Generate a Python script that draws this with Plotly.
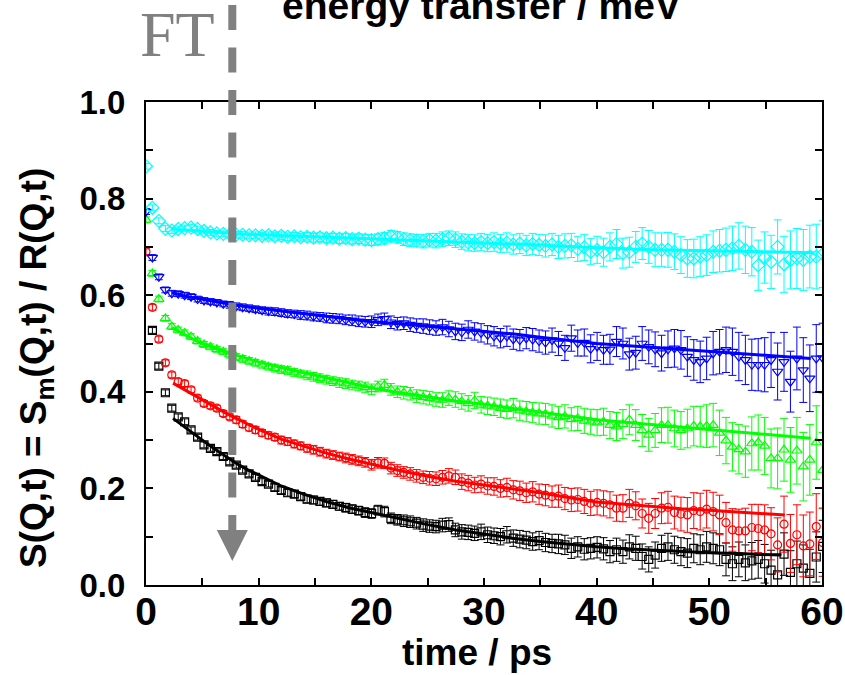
import plotly.graph_objects as go

# ---------------- data ----------------
time_ps = [0.0, 0.57, 1.14, 1.72, 2.29, 2.86, 3.43, 4.00, 4.58, 5.15,
           5.72, 6.29, 6.86, 7.44, 8.01, 8.58, 9.15, 9.72, 10.30, 10.87,
           11.44, 12.01, 12.58, 13.16, 13.73, 14.30, 14.87, 15.44, 16.02, 16.59,
           17.16, 17.73, 18.30, 18.88, 19.45, 20.02, 20.59, 21.16, 21.74, 22.31,
           22.88, 23.45, 24.02, 24.60, 25.17, 25.74, 26.31, 26.88, 27.46, 28.03,
           28.60, 29.17, 29.74, 30.32, 30.89, 31.46, 32.03, 32.60, 33.18, 33.75,
           34.32, 34.89, 35.46, 36.04, 36.61, 37.18, 37.75, 38.32, 38.90, 39.47,
           40.04, 40.61, 41.18, 41.76, 42.33, 42.90, 43.47, 44.04, 44.62, 45.19,
           45.76, 46.33, 46.90, 47.48, 48.05, 48.62, 49.19, 49.76, 50.34, 50.91,
           51.48, 52.05, 52.62, 53.20, 53.77, 54.34, 54.91, 55.48, 56.06, 56.63,
           57.20, 57.77, 58.34, 58.92, 59.49, 60.06]

cyan_S = [0.867, 0.781, 0.754, 0.738, 0.734, 0.737, 0.739, 0.740, 0.737, 0.733,
          0.730, 0.728, 0.727, 0.726, 0.725, 0.725, 0.724, 0.724, 0.723, 0.724,
          0.722, 0.723, 0.721, 0.722, 0.720, 0.721, 0.719, 0.720, 0.718, 0.719,
          0.717, 0.718, 0.716, 0.717, 0.715, 0.714, 0.716, 0.718, 0.722, 0.720,
          0.716, 0.714, 0.713, 0.712, 0.714, 0.713, 0.716, 0.718, 0.715, 0.711,
          0.709, 0.708, 0.710, 0.708, 0.710, 0.707, 0.709, 0.705, 0.707, 0.703,
          0.706, 0.704, 0.702, 0.705, 0.700, 0.702, 0.703, 0.696, 0.699, 0.690,
          0.694, 0.689, 0.700, 0.706, 0.687, 0.689, 0.700, 0.707, 0.700, 0.694,
          0.694, 0.694, 0.690, 0.683, 0.676, 0.676, 0.680, 0.683, 0.690, 0.692,
          0.694, 0.697, 0.702, 0.694, 0.690, 0.662, 0.678, 0.669, 0.700, 0.664,
          0.673, 0.676, 0.673, 0.680, 0.680, 0.685]

blue_S = [0.773, 0.678, 0.638, 0.611, 0.604, 0.603, 0.600, 0.597, 0.592, 0.589,
          0.587, 0.585, 0.582, 0.580, 0.577, 0.575, 0.573, 0.571, 0.569, 0.567,
          0.566, 0.564, 0.562, 0.561, 0.559, 0.558, 0.556, 0.555, 0.553, 0.552,
          0.551, 0.549, 0.548, 0.546, 0.545, 0.545, 0.549, 0.551, 0.544, 0.541,
          0.542, 0.539, 0.537, 0.536, 0.534, 0.532, 0.534, 0.530, 0.525, 0.523,
          0.529, 0.525, 0.522, 0.518, 0.515, 0.511, 0.515, 0.509, 0.507, 0.511,
          0.508, 0.505, 0.502, 0.507, 0.500, 0.491, 0.511, 0.501, 0.502, 0.489,
          0.494, 0.487, 0.488, 0.504, 0.500, 0.478, 0.481, 0.500, 0.493, 0.488,
          0.480, 0.488, 0.490, 0.487, 0.473, 0.466, 0.462, 0.469, 0.480, 0.483,
          0.487, 0.483, 0.473, 0.466, 0.456, 0.456, 0.456, 0.466, 0.442, 0.462,
          0.421, 0.469, 0.445, 0.428, 0.469, 0.470]

green_S = [0.756, 0.645, 0.592, 0.552, 0.535, 0.528, 0.522, 0.514, 0.505, 0.498,
           0.493, 0.488, 0.483, 0.477, 0.472, 0.468, 0.464, 0.460, 0.456, 0.452,
           0.449, 0.446, 0.444, 0.440, 0.437, 0.434, 0.431, 0.428, 0.425, 0.422,
           0.419, 0.417, 0.414, 0.412, 0.409, 0.405, 0.411, 0.414, 0.405, 0.400,
           0.398, 0.396, 0.391, 0.389, 0.387, 0.384, 0.383, 0.387, 0.384, 0.380,
           0.376, 0.382, 0.373, 0.371, 0.369, 0.366, 0.364, 0.366, 0.361, 0.359,
           0.357, 0.355, 0.354, 0.350, 0.347, 0.349, 0.343, 0.345, 0.340, 0.338,
           0.336, 0.338, 0.331, 0.328, 0.333, 0.342, 0.331, 0.320, 0.311, 0.320,
           0.331, 0.331, 0.324, 0.320, 0.324, 0.329, 0.328, 0.329, 0.331, 0.315,
           0.299, 0.286, 0.281, 0.276, 0.293, 0.295, 0.288, 0.262, 0.262, 0.280,
           0.259, 0.278, 0.245, 0.259, 0.295, 0.238]

red_S = [0.690, 0.575, 0.509, 0.460, 0.435, 0.421, 0.417, 0.404, 0.387, 0.376,
         0.371, 0.366, 0.355, 0.348, 0.342, 0.333, 0.326, 0.321, 0.315, 0.310,
         0.306, 0.300, 0.297, 0.292, 0.288, 0.283, 0.280, 0.276, 0.272, 0.269,
         0.266, 0.263, 0.260, 0.257, 0.254, 0.249, 0.253, 0.252, 0.242, 0.237,
         0.233, 0.230, 0.226, 0.223, 0.221, 0.220, 0.223, 0.226, 0.223, 0.214,
         0.211, 0.207, 0.209, 0.205, 0.204, 0.200, 0.202, 0.197, 0.195, 0.191,
         0.193, 0.188, 0.186, 0.183, 0.184, 0.179, 0.176, 0.177, 0.173, 0.169,
         0.171, 0.169, 0.166, 0.159, 0.159, 0.169, 0.164, 0.148, 0.138, 0.148,
         0.159, 0.161, 0.150, 0.147, 0.145, 0.154, 0.152, 0.157, 0.152, 0.145,
         0.129, 0.114, 0.112, 0.112, 0.119, 0.117, 0.114, 0.106, 0.083, 0.126,
         0.086, 0.104, 0.081, 0.085, 0.121, 0.088]

black_S = [None, 0.527, 0.453, 0.398, 0.366, 0.348, 0.338, 0.321, 0.306, 0.290,
           0.283, 0.276, 0.266, 0.255, 0.248, 0.238, 0.230, 0.223, 0.214, 0.209,
           0.202, 0.196, 0.191, 0.188, 0.183, 0.178, 0.176, 0.173, 0.170, 0.167,
           0.163, 0.160, 0.157, 0.154, 0.150, 0.148, 0.155, 0.152, 0.138, 0.135,
           0.133, 0.131, 0.128, 0.124, 0.122, 0.121, 0.124, 0.125, 0.114, 0.110,
           0.109, 0.107, 0.110, 0.104, 0.102, 0.100, 0.104, 0.097, 0.095, 0.093,
           0.090, 0.092, 0.088, 0.086, 0.085, 0.083, 0.076, 0.079, 0.074, 0.076,
           0.078, 0.075, 0.069, 0.073, 0.069, 0.079, 0.076, 0.059, 0.053, 0.062,
           0.076, 0.079, 0.073, 0.069, 0.066, 0.076, 0.073, 0.079, 0.076, 0.073,
           0.053, 0.044, 0.053, 0.046, 0.050, 0.053, 0.044, 0.031, 0.021, 0.064,
           0.026, 0.044, 0.035, 0.024, 0.058, 0.080]

err_cyan = [0.006, 0.006, 0.006, 0.006, 0.006, 0.006, 0.006, 0.006, 0.006, 0.006,
            0.006, 0.006, 0.006, 0.007, 0.007, 0.007, 0.007, 0.007, 0.007, 0.007,
            0.008, 0.008, 0.008, 0.008, 0.008, 0.009, 0.009, 0.009, 0.009, 0.009,
            0.010, 0.010, 0.010, 0.010, 0.011, 0.011, 0.011, 0.012, 0.012, 0.012,
            0.013, 0.013, 0.013, 0.014, 0.014, 0.015, 0.015, 0.015, 0.016, 0.016,
            0.017, 0.017, 0.018, 0.018, 0.019, 0.019, 0.020, 0.020, 0.021, 0.021,
            0.022, 0.022, 0.023, 0.023, 0.024, 0.025, 0.025, 0.026, 0.027, 0.027,
            0.028, 0.029, 0.029, 0.030, 0.031, 0.031, 0.032, 0.033, 0.034, 0.035,
            0.035, 0.036, 0.037, 0.038, 0.039, 0.040, 0.041, 0.042, 0.043, 0.044,
            0.045, 0.046, 0.048, 0.049, 0.050, 0.052, 0.053, 0.055, 0.056, 0.058,
            0.060, 0.062, 0.063, 0.065, 0.067, 0.069]

err_blue = [0.006, 0.006, 0.006, 0.006, 0.006, 0.006, 0.006, 0.006, 0.006, 0.006,
            0.006, 0.006, 0.006, 0.007, 0.007, 0.007, 0.007, 0.007, 0.007, 0.008,
            0.008, 0.008, 0.008, 0.008, 0.009, 0.009, 0.009, 0.009, 0.010, 0.010,
            0.010, 0.010, 0.011, 0.011, 0.011, 0.012, 0.012, 0.012, 0.013, 0.013,
            0.013, 0.014, 0.014, 0.015, 0.015, 0.015, 0.016, 0.016, 0.017, 0.017,
            0.018, 0.018, 0.019, 0.019, 0.020, 0.020, 0.021, 0.021, 0.022, 0.022,
            0.023, 0.023, 0.024, 0.025, 0.025, 0.026, 0.027, 0.027, 0.028, 0.029,
            0.029, 0.030, 0.031, 0.031, 0.032, 0.033, 0.034, 0.035, 0.035, 0.036,
            0.037, 0.038, 0.039, 0.040, 0.041, 0.042, 0.043, 0.044, 0.045, 0.046,
            0.047, 0.049, 0.050, 0.051, 0.053, 0.054, 0.056, 0.057, 0.059, 0.061,
            0.063, 0.065, 0.067, 0.069, 0.070, 0.072]

err_green = [0.006, 0.006, 0.006, 0.006, 0.006, 0.006, 0.006, 0.006, 0.006, 0.006,
             0.006, 0.006, 0.006, 0.007, 0.007, 0.007, 0.007, 0.007, 0.007, 0.007,
             0.008, 0.008, 0.008, 0.008, 0.008, 0.009, 0.009, 0.009, 0.009, 0.009,
             0.010, 0.010, 0.010, 0.010, 0.011, 0.011, 0.011, 0.012, 0.012, 0.012,
             0.013, 0.013, 0.013, 0.014, 0.014, 0.014, 0.015, 0.015, 0.016, 0.016,
             0.016, 0.017, 0.017, 0.018, 0.018, 0.019, 0.019, 0.020, 0.020, 0.021,
             0.021, 0.022, 0.022, 0.023, 0.023, 0.024, 0.024, 0.025, 0.026, 0.026,
             0.027, 0.028, 0.028, 0.029, 0.030, 0.031, 0.032, 0.033, 0.034, 0.035,
             0.036, 0.037, 0.038, 0.039, 0.040, 0.041, 0.042, 0.044, 0.045, 0.047,
             0.048, 0.050, 0.051, 0.053, 0.055, 0.057, 0.059, 0.061, 0.063, 0.065,
             0.067, 0.069, 0.071, 0.073, 0.076, 0.078]

err_red = [0.006, 0.006, 0.006, 0.006, 0.006, 0.006, 0.006, 0.006, 0.006, 0.006,
           0.006, 0.006, 0.006, 0.006, 0.007, 0.007, 0.007, 0.007, 0.007, 0.007,
           0.007, 0.008, 0.008, 0.008, 0.008, 0.008, 0.009, 0.009, 0.009, 0.009,
           0.009, 0.010, 0.010, 0.010, 0.010, 0.011, 0.011, 0.011, 0.012, 0.012,
           0.012, 0.013, 0.013, 0.013, 0.014, 0.014, 0.014, 0.015, 0.015, 0.016,
           0.016, 0.016, 0.017, 0.017, 0.018, 0.018, 0.019, 0.019, 0.020, 0.020,
           0.021, 0.021, 0.022, 0.022, 0.023, 0.023, 0.024, 0.024, 0.025, 0.025,
           0.026, 0.026, 0.027, 0.027, 0.028, 0.029, 0.029, 0.030, 0.031, 0.031,
           0.032, 0.033, 0.034, 0.035, 0.036, 0.037, 0.038, 0.039, 0.040, 0.041,
           0.042, 0.044, 0.045, 0.047, 0.048, 0.050, 0.052, 0.054, 0.056, 0.058,
           0.060, 0.062, 0.064, 0.066, 0.068, 0.070]

err_black = [0.006, 0.006, 0.006, 0.006, 0.006, 0.006, 0.006, 0.006, 0.006, 0.006,
             0.006, 0.006, 0.006, 0.006, 0.006, 0.006, 0.006, 0.006, 0.006, 0.006,
             0.007, 0.007, 0.007, 0.007, 0.007, 0.008, 0.008, 0.008, 0.008, 0.008,
             0.008, 0.009, 0.009, 0.009, 0.010, 0.010, 0.010, 0.011, 0.011, 0.011,
             0.012, 0.012, 0.012, 0.013, 0.013, 0.013, 0.014, 0.014, 0.014, 0.015,
             0.015, 0.015, 0.016, 0.016, 0.016, 0.017, 0.017, 0.017, 0.018, 0.018,
             0.018, 0.019, 0.019, 0.019, 0.020, 0.020, 0.021, 0.021, 0.022, 0.022,
             0.022, 0.023, 0.023, 0.024, 0.024, 0.025, 0.025, 0.026, 0.026, 0.027,
             0.027, 0.028, 0.028, 0.029, 0.030, 0.030, 0.031, 0.032, 0.032, 0.033,
             0.034, 0.035, 0.036, 0.037, 0.038, 0.039, 0.040, 0.041, 0.043, 0.044,
             0.045, 0.047, 0.048, 0.050, 0.052, 0.054]

# fitted curves
fit_black_t = [2.4, 3, 4, 5, 6, 7, 8, 9, 10, 12, 14, 16, 18, 20, 22.5, 25, 27.5, 30,
               32.5, 35, 37.5, 40, 42.5, 45, 47.5, 50, 52.5, 54.5, 56.4]
fit_black = [0.345, 0.335, 0.318, 0.300, 0.283, 0.267, 0.252, 0.239, 0.228, 0.205,
             0.188, 0.173, 0.160, 0.150, 0.137, 0.125, 0.114, 0.105, 0.097, 0.090,
             0.084, 0.079, 0.075, 0.072, 0.069, 0.067, 0.065, 0.063, 0.062]
fit_red_t = [2.4, 3, 4, 5, 6, 7, 8, 9, 10, 12, 14, 16, 18, 20, 22.5, 25, 27.5, 30,
             32.5, 35, 37.5, 40, 42.5, 45, 47.5, 50, 52.5, 54.5, 56.7]
fit_red = [0.418, 0.410, 0.397, 0.383, 0.370, 0.357, 0.345, 0.333, 0.322, 0.302,
           0.287, 0.273, 0.261, 0.250, 0.237, 0.225, 0.215, 0.207, 0.199, 0.191,
           0.181, 0.172, 0.167, 0.162, 0.158, 0.155, 0.151, 0.148, 0.145]
fit_green_t = [2.3, 3, 4, 5, 6, 7, 8, 9, 10, 12, 14, 16, 18, 20, 22.5, 25, 27.5, 30,
               32.5, 35, 37.5, 40, 42.5, 45, 47.5, 50, 52.5, 55, 57, 59]
fit_green = [0.533, 0.524, 0.511, 0.500, 0.491, 0.483, 0.476, 0.469, 0.462, 0.450,
             0.439, 0.429, 0.419, 0.408, 0.398, 0.389, 0.381, 0.374, 0.366, 0.359,
             0.351, 0.342, 0.337, 0.332, 0.327, 0.322, 0.316, 0.311, 0.307, 0.304]
fit_blue_t = [2.3, 3.5, 5, 6.5, 8, 10, 12.5, 15, 17.5, 20, 22.5, 25, 27.5, 30, 32.5,
              35, 37.5, 40, 42.5, 45, 47.5, 50, 52.5, 55, 57, 59]
fit_blue = [0.605, 0.598, 0.5915, 0.585, 0.579, 0.573, 0.566, 0.559, 0.552, 0.545,
            0.541, 0.536, 0.531, 0.526, 0.520, 0.513, 0.506, 0.500, 0.496, 0.492,
            0.488, 0.484, 0.480, 0.476, 0.472, 0.469]
fit_cyan_t = [2.3, 3.5, 5, 6.5, 8, 10, 12.5, 15, 17.5, 20, 22.5, 25, 27.5, 30, 32.5,
              35, 37.5, 40, 42.5, 45, 47.5, 50, 52.5, 55, 57, 59.3]
fit_cyan = [0.737, 0.735, 0.732, 0.729, 0.727, 0.725, 0.723, 0.721, 0.718, 0.716,
            0.714, 0.712, 0.710, 0.708, 0.706, 0.704, 0.701, 0.698, 0.696, 0.694,
            0.693, 0.692, 0.691, 0.690, 0.689, 0.688]

x_tickvals = [0, 5, 10, 15, 20, 25, 30, 35, 40, 45, 50, 55, 60]
x_ticktext = ["0", "", "10", "", "20", "", "30", "", "40", "", "50", "", "60"]
y_tickvals = [0.0, 0.1, 0.2, 0.3, 0.4, 0.5, 0.6, 0.7, 0.8, 0.9, 1.0]
y_ticktext = ["0.0", "", "0.2", "", "0.4", "", "0.6", "", "0.8", "", "1.0"]

arrow_time = 7.66          # position of the "FT" arrow on the time axis
X_RANGE = [0, 60]
Y_RANGE = [0, 1]

# ---------------- styling ----------------
W, H = 845, 675
ML, MR, MT, MB = 146, 23, 102, 90
PW, PH = W - ML - MR, H - MT - MB


def py(pix_y):
    """pixel row (from top) -> paper y"""
    return (H - MB - pix_y) / PH


def pxp(pix_x):
    return (pix_x - ML) / PW


styles = [
    ("black", black_S, err_black, "square-open", 8, fit_black_t, fit_black),
    ("#FF0000", red_S, err_red, "circle-open", 8, fit_red_t, fit_red),
    ("#00FF00", green_S, err_green, "triangle-up-open", 9, fit_green_t, fit_green),
    ("#0000FF", blue_S, err_blue, "triangle-down-open", 9, fit_blue_t, fit_blue),
    ("#00FFFF", cyan_S, err_cyan, "diamond-open", 10, fit_cyan_t, fit_cyan),
]

fig = go.Figure()
for color, yv, ev, sym, size, ft, fv in styles:
    fig.add_trace(go.Scatter(
        x=time_ps, y=yv, mode="markers",
        marker=dict(symbol=sym, size=size, color=color, line=dict(width=1.2, color=color)),
        error_y=dict(type="data", array=ev, visible=True, color=color, thickness=1, width=4),
        showlegend=False, hoverinfo="skip"))
for color, yv, ev, sym, size, ft, fv in styles:
    fig.add_trace(go.Scatter(
        x=ft, y=fv, mode="lines", line=dict(color=color, width=3),
        showlegend=False, hoverinfo="skip"))

BOLD = "Liberation Sans, Arial, Helvetica, sans-serif"

fig.update_layout(
    width=W, height=H,
    margin=dict(l=ML, r=MR, t=MT, b=MB, pad=0),
    paper_bgcolor="white", plot_bgcolor="white",
    xaxis=dict(range=X_RANGE, tickvals=x_tickvals, ticktext=x_ticktext, automargin=False,
               ticks="inside", ticklen=7, tickwidth=2, tickcolor="black",
               showline=True, linewidth=2, linecolor="black", mirror="allticks",
               showgrid=False, zeroline=False, ticklabelstandoff=-9,
               tickfont=dict(family=BOLD, size=39, color="black", weight="bold")),
    yaxis=dict(range=Y_RANGE, tickvals=y_tickvals, ticktext=y_ticktext, automargin=False,
               ticks="inside", ticklen=7, tickwidth=2, tickcolor="black",
               showline=True, linewidth=2, linecolor="black", mirror="allticks",
               showgrid=False, zeroline=False, ticklabelstandoff=12,
               tickfont=dict(family=BOLD, size=33, color="black", weight="bold")),
)

annotations = [
    dict(text="S(Q,t) = S<sub>m</sub>(Q,t) / R(Q,t)", textangle=-90,
         xref="paper", yref="paper", x=pxp(36), y=py(368), xanchor="center", yanchor="middle",
         showarrow=False, font=dict(family=BOLD, size=37, color="black", weight="bold")),
    dict(text="time / ps", xref="paper", yref="paper",
         x=pxp(477), y=py(652), xanchor="center", yanchor="middle", showarrow=False,
         font=dict(family=BOLD, size=37, color="black", weight="bold")),
    dict(text="energy transfer / meV", xref="paper", yref="paper",
         x=pxp(481), y=py(29), xanchor="center", yanchor="bottom", showarrow=False,
         font=dict(family=BOLD, size=39, color="black", weight="bold")),
    dict(text="FT", xref="paper", yref="paper", x=pxp(177), y=py(34),
         xanchor="center", yanchor="middle", showarrow=False,
         font=dict(family="Liberation Serif, Times New Roman, serif", size=64, color="#808080")),
]
fig.update_layout(annotations=annotations)

ax = (arrow_time - X_RANGE[0]) / (X_RANGE[1] - X_RANGE[0])
half_w = 15.5 / PW
shapes = [
    dict(type="line", xref="paper", yref="paper", x0=ax, x1=ax, y0=py(5), y1=py(531),
         line=dict(color="#808080", width=8, dash="25px,17.5px")),
    dict(type="path", xref="paper", yref="paper",
         path=f"M {ax - half_w} {py(530)} L {ax + half_w} {py(530)} L {ax} {py(561)} Z",
         fillcolor="#808080", line=dict(width=0)),
]
fig.update_layout(shapes=shapes)

fig.write_html("out.html")
